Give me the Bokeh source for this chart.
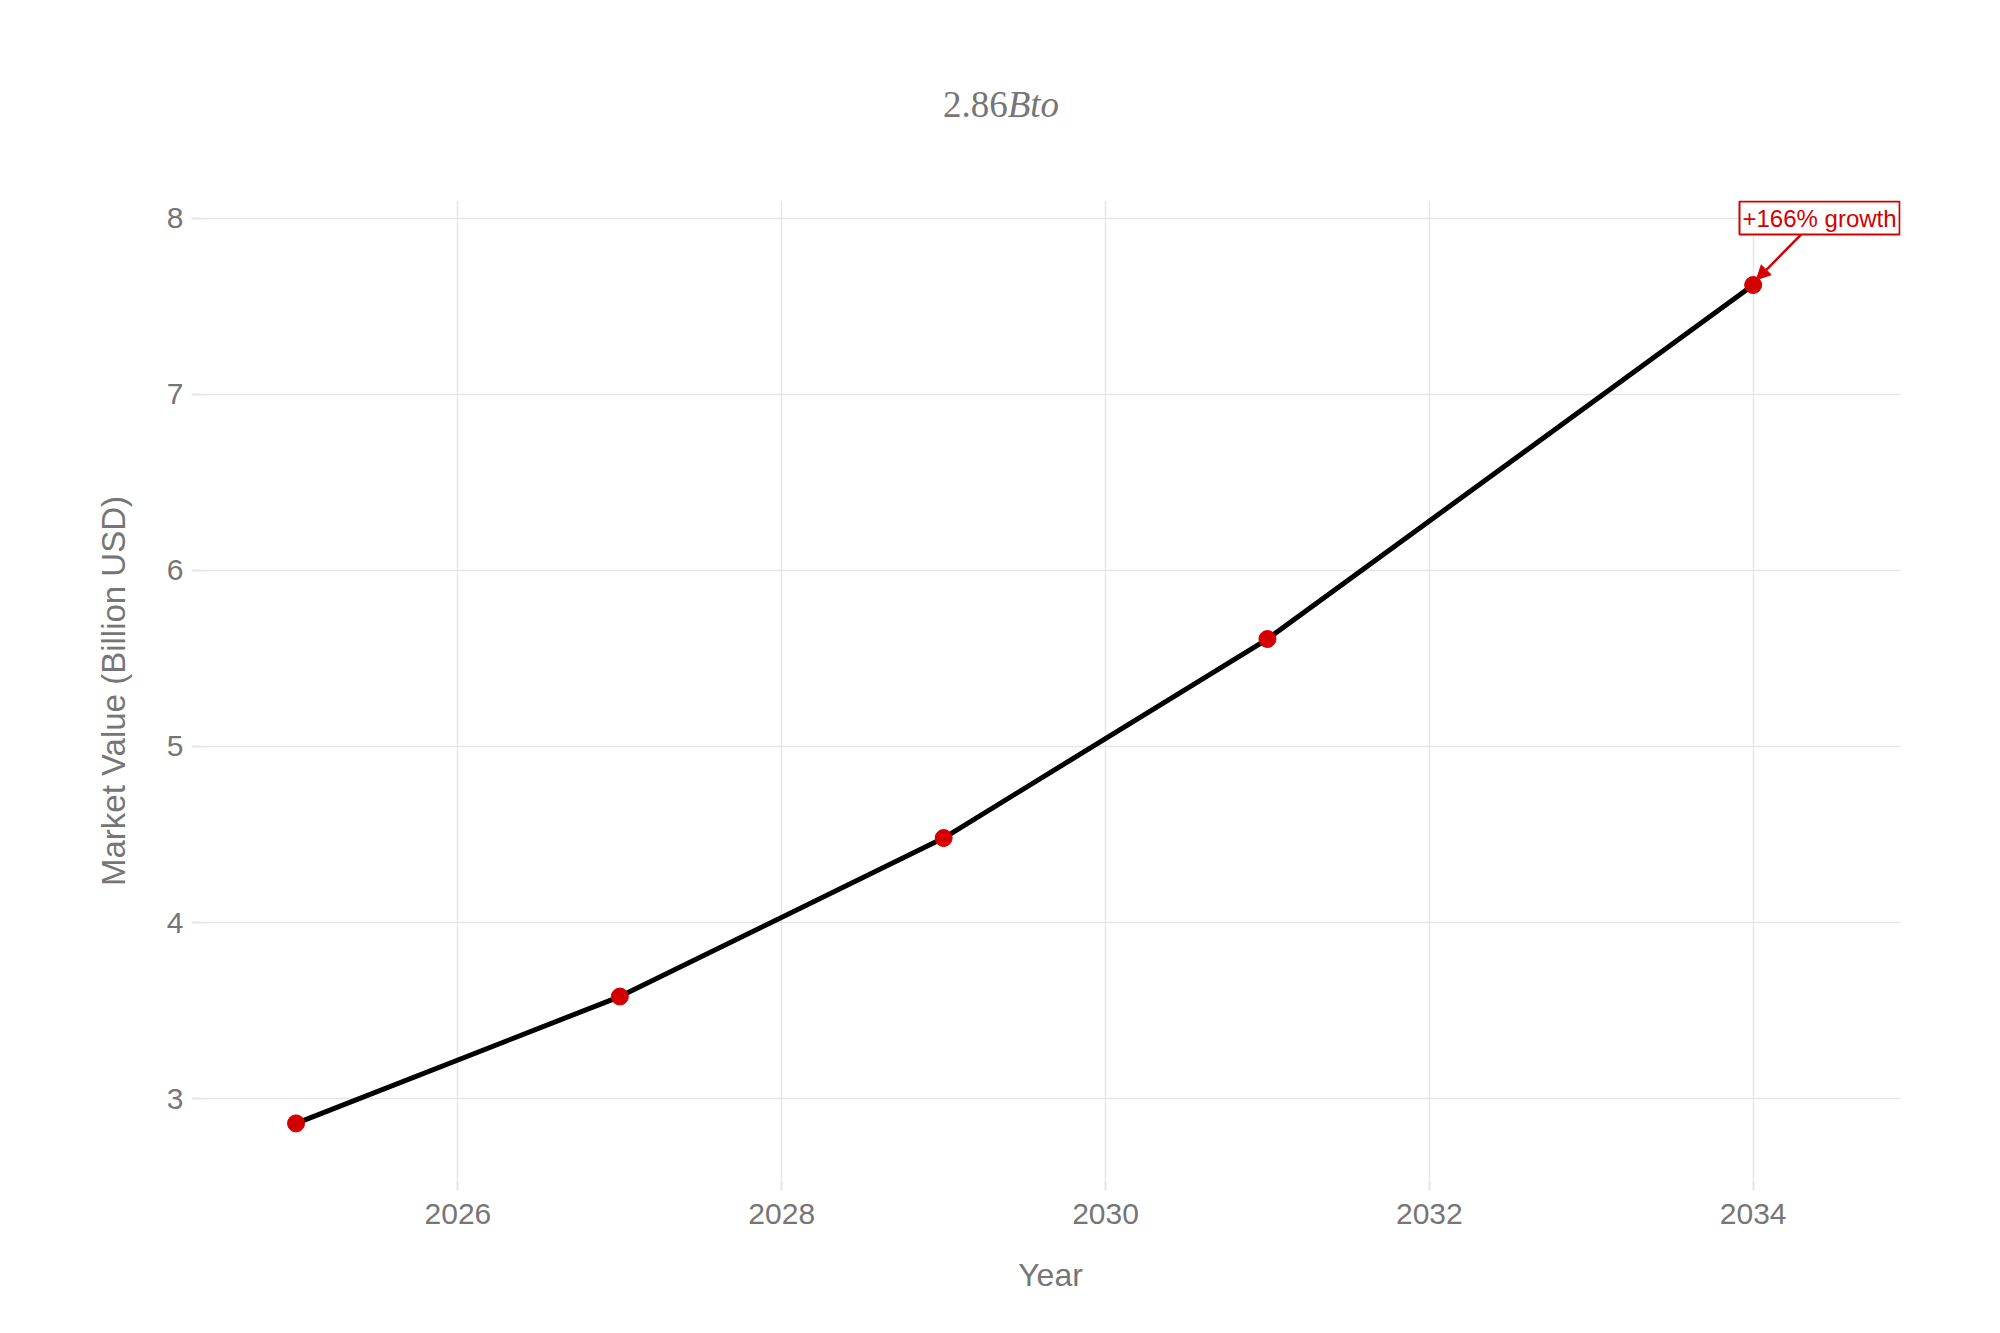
from bokeh.plotting import figure
from bokeh.models import Range1d, Label, Arrow, NormalHead, FixedTicker, Div
from bokeh.layouts import column
from bokeh.embed import file_html
from bokeh.resources import INLINE

years = [2025, 2027, 2029, 2031, 2034]
values = [2.86, 3.58, 4.48, 5.61, 7.62]
x_ticks = [2026, 2028, 2030, 2032, 2034]
y_ticks = [3, 4, 5, 6, 7, 8]
title_num = "2.86"
title_rest = "Bto"
annotation_text = "+166% growth"

GREY = "#767676"
GRID = "#e6e6e6"
SANS = "Liberation Sans"

title_div = Div(
    text=(f'<div style="width:1984px; padding-top:80px; padding-left:8px; box-sizing:border-box; '
          f'text-align:center; font-family:\'Liberation Serif\'; font-size:37px; '
          f'line-height:40px; color:{GREY};">{title_num}<i>{title_rest}</i></div>'),
    width=1984, height=140)

p = figure(width=1984, height=1167, output_backend="svg", toolbar_location=None,
           x_range=Range1d(2024.41, 2034.91), y_range=Range1d(2.53, 8.10),
           min_border_left=200, min_border_right=84, min_border_top=50, min_border_bottom=136)
p.frame_width = 1700
p.frame_height = 981
p.outline_line_color = None
p.background_fill_color = "white"
p.border_fill_color = "white"

p.xaxis.ticker = FixedTicker(ticks=x_ticks)
p.yaxis.ticker = FixedTicker(ticks=y_ticks)
for ax in (p.xaxis[0], p.yaxis[0]):
    ax.axis_line_color = None
    ax.major_tick_line_color = GRID
    ax.major_tick_line_width = 2
    ax.major_tick_in = 0
    ax.major_tick_out = 9
    ax.minor_tick_line_color = None
    ax.major_label_text_color = GREY
    ax.major_label_text_font = SANS
    ax.major_label_text_font_size = "30px"
    ax.axis_label_text_color = GREY
    ax.axis_label_text_font = SANS
    ax.axis_label_text_font_size = "32px"
    ax.axis_label_text_font_style = "normal"
p.yaxis.axis_label_text_font_size = "33px"
p.xaxis.axis_label = "Year"
p.yaxis.axis_label = "Market Value (Billion USD)"
p.xaxis.major_label_standoff = 13
p.yaxis.major_label_standoff = 8
p.xaxis.axis_label_standoff = 30
p.yaxis.axis_label_standoff = 32

p.grid.grid_line_color = GRID
p.grid.grid_line_width = 1.5

p.line(years, values, line_color="black", line_width=5)
p.scatter(years, values, size=17, fill_color="#d40000", line_color="#d40000")

# annotation
ax_pos = years[-1] + 0.41
ay_pos = 8.0
p.add_layout(Arrow(end=NormalHead(size=14, fill_color="#d40000", line_color="#d40000"),
                   x_start=years[-1] + 0.30, y_start=ay_pos - 0.09,
                   x_end=years[-1] + 0.02, y_end=values[-1] + 0.03,
                   line_color="#d40000", line_width=2.5))
p.add_layout(Label(x=ax_pos, y=ay_pos, text=annotation_text, text_font=SANS,
                   text_font_size="24px", text_color="#d40000", text_align="center",
                   text_baseline="middle", background_fill_color="white",
                   border_line_color="#d40000", border_line_width=2, padding=3))

layout = column(title_div, p, spacing=0)
open("out.html", "w").write(file_html(layout, INLINE))
